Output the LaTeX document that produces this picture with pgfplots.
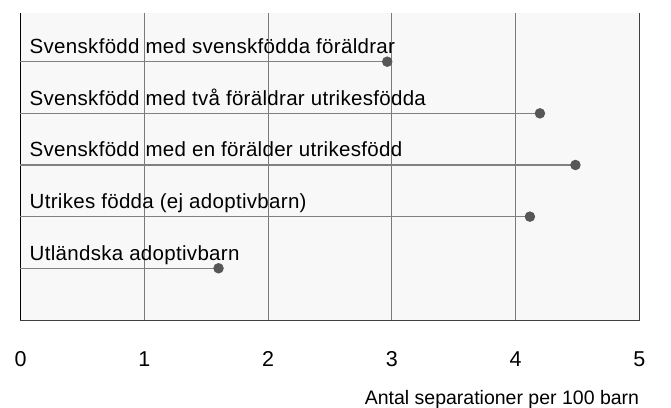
\documentclass[border=0pt]{standalone}
\usepackage{fontspec}
\setmainfont{Liberation Sans}
\usepackage{pgfplots}
\pgfplotsset{compat=1.18}
\definecolor{plotbg}{HTML}{F8F8F8}
\definecolor{stemgray}{HTML}{808080}
\definecolor{dotgray}{HTML}{575757}
\definecolor{gridgray}{HTML}{7A7A7A}

\begin{document}
\begin{tikzpicture}
\useasboundingbox (-20.5pt,-86.3pt) rectangle (650.5pt,307.7pt+13pt);
\begin{axis}[
  at={(0,0)}, anchor=south west,
  scale only axis,
  width=618.8pt, height=307.7pt,
  xmin=0, xmax=5,
  ymin=-0.015, ymax=5.943,
  xtick={0,1,2,3,4,5},
  ytick=\empty,
  axis background/.style={fill=plotbg},
  axis line style={draw=none},
  major tick length=0pt,
  xmajorgrids,
  grid style={gridgray, line width=0.8pt},
  /pgf/number format/assume math mode=true,
  xticklabel style={font=\fontsize{21.5}{24}\selectfont, yshift=-27pt},
  clip=false,
]
\draw[black, line width=1.2pt] (rel axis cs:0,0) -- (rel axis cs:0,1);
\draw[black!75, line width=1.2pt] (rel axis cs:0,0) -- (rel axis cs:1,0) -- (rel axis cs:1,1);

\addplot[xcomb, stemgray, line width=1.4pt,
  mark=*, mark size=4.5pt,
  mark options={fill=dotgray, draw=dotgray}] coordinates {
  (2.963,5) (4.197,4) (4.484,3) (4.116,2) (1.60,1)
};

\begin{scope}[every node/.style={anchor=base west, inner sep=0pt,
    font=\fontsize{20.5}{23}\selectfont\addfontfeatures{LetterSpace=1.5}}]
\node at ([xshift=9pt, yshift=8pt]axis cs:0,5) {Svenskfödd med svenskfödda föräldrar};
\node at ([xshift=9pt, yshift=8pt]axis cs:0,4) {Svenskfödd med två föräldrar utrikesfödda};
\node at ([xshift=9pt, yshift=8pt]axis cs:0,3) {Svenskfödd med en förälder utrikesfödd};
\node at ([xshift=9pt, yshift=8pt]axis cs:0,2) {Utrikes födda (ej adoptivbarn)};
\node at ([xshift=9pt, yshift=8pt]axis cs:0,1) {Utländska adoptivbarn};
\end{scope}
\node[anchor=base east, inner sep=0pt, font=\fontsize{19.5}{22}\selectfont]
  at ([yshift=-83.3pt]rel axis cs:1,0) {Antal separationer per 100 barn};
\end{axis}
\end{tikzpicture}
\end{document}
